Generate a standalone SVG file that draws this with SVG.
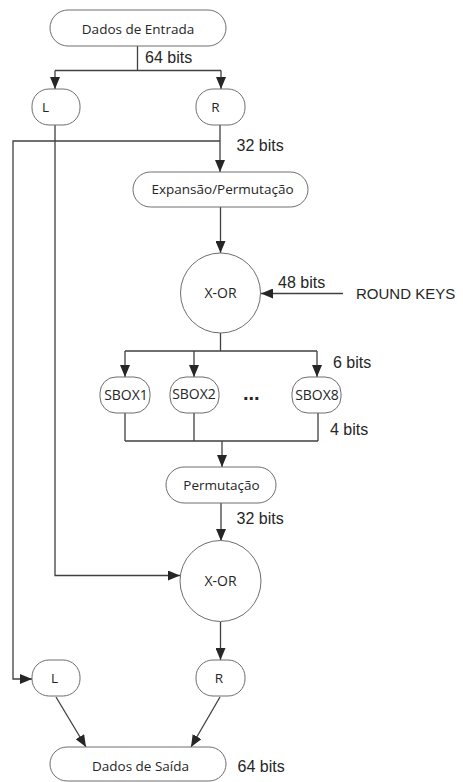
<svg xmlns="http://www.w3.org/2000/svg" width="463" height="782" viewBox="0 0 463 782">
<style>
.n{fill:#fff;stroke:#6e6e6e;stroke-width:1}
.t{font-family:"Open Sans","Noto Sans",sans-serif;font-size:13.5px;fill:#262626;text-anchor:middle}
.sb{font-size:14px}
.lb{font-family:"Liberation Sans",Arial,sans-serif;font-size:16px;fill:#262626}
.c{fill:none;stroke:#404040;stroke-width:1.3}
.a{marker-end:url(#ah)}
</style>
<defs>
<marker id="ah" markerUnits="userSpaceOnUse" markerWidth="12" markerHeight="10" refX="12" refY="5" orient="auto" viewBox="0 0 12 10">
<path d="M0,0 L12,5 L0,10 z" fill="#262626"/>
</marker>
</defs>
<rect width="463" height="782" fill="#fff"/>
<g id="connectors">
<path class="c" d="M137.5,46 V70.5 M55,70.5 H221"/>
<path class="c a" d="M55,70.5 V89"/>
<path class="c a" d="M221,70.5 V89"/>
<path class="c a" d="M220,125 V172"/>
<path class="c a" d="M220,141 H13 V679 H32"/>
<path class="c a" d="M55,125 V575.5 H180"/>
<path class="c a" d="M220.5,207 V253"/>
<path class="c a" d="M343,293.5 H261"/>
<path class="c" d="M220.5,333 V351 M125,351 H317"/>
<path class="c a" d="M125,351 V377"/>
<path class="c a" d="M194,351 V377"/>
<path class="c a" d="M317,351 V377"/>
<path class="c" d="M125,413 V441 M194,413 V441 M318,413 V441 M125,441 H318"/>
<path class="c a" d="M222,441 V467"/>
<path class="c a" d="M221,503 V541"/>
<path class="c a" d="M220.5,622 V660"/>
<path class="c a" d="M56,697 L86,747"/>
<path class="c a" d="M220,697 L191,747"/>
</g>
<g id="entrada"><rect class="n" x="50" y="10" width="176" height="36" rx="18"/><text class="t" x="138" y="34">Dados de Entrada</text></g>
<g id="L1"><rect class="n" x="32" y="89" width="48" height="36" rx="17"/><text class="t" x="45.5" y="112">L</text></g>
<g id="R1"><rect class="n" x="196" y="89" width="49" height="36" rx="17"/><text class="t" x="215.5" y="112">R</text></g>
<g id="expansao"><rect class="n" x="133" y="172" width="175" height="35" rx="17.5"/><text class="t" x="222.5" y="193.5">Expansão/Permutação</text></g>
<g id="xor1"><circle class="n" cx="220.5" cy="293" r="40"/><text class="t sb" x="220.5" y="298">X-OR</text></g>
<g id="sbox1"><rect class="n" x="100" y="377" width="50" height="36" rx="16"/><text class="t sb" x="126" y="400">SBOX1</text></g>
<g id="sbox2"><rect class="n" x="170" y="377" width="49" height="36" rx="16"/><text class="t sb" x="194" y="399">SBOX2</text></g>
<g id="sbox8"><rect class="n" x="292" y="377" width="49" height="36" rx="16"/><text class="t sb" x="317" y="400">SBOX8</text></g>
<g id="permutacao"><rect class="n" x="166" y="467" width="110" height="36" rx="18"/><text class="t" x="221.5" y="489.5">Permutação</text></g>
<g id="xor2"><circle class="n" cx="220.5" cy="581" r="40.5"/><text class="t sb" x="220.5" y="586">X-OR</text></g>
<g id="L2"><rect class="n" x="32" y="660" width="48" height="36" rx="17"/><text class="t" x="54.5" y="683">L</text></g>
<g id="R2"><rect class="n" x="196" y="660" width="49" height="36" rx="17"/><text class="t" x="219" y="683">R</text></g>
<g id="saida"><rect class="n" x="50" y="747" width="176" height="34" rx="17"/><text class="t" x="140.5" y="771">Dados de Saída</text></g>
<g id="labels">
<text class="lb" x="145" y="63">64 bits</text>
<text class="lb" x="236.5" y="150.5">32 bits</text>
<text class="lb" x="278" y="288">48 bits</text>
<text class="lb" x="356" y="298.5" style="font-size:15px">ROUND KEYS</text>
<text class="lb" x="333" y="367.5">6 bits</text>
<text class="lb" x="330" y="435">4 bits</text>
<text class="lb" x="243" y="400" style="font-size:20px;font-weight:bold">...</text>
<text class="lb" x="236.5" y="524">32 bits</text>
<text class="lb" x="237.5" y="771.5">64 bits</text>
</g>
</svg>
